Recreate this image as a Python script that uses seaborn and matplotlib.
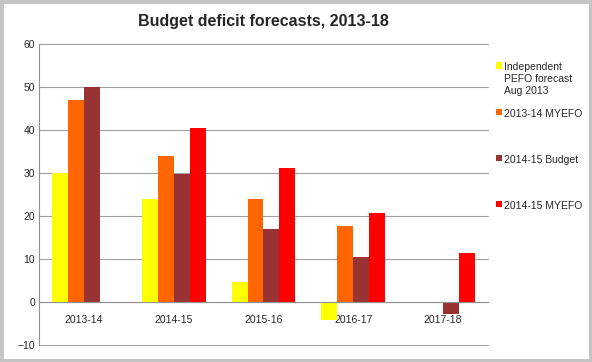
import numpy as np
import pandas as pd
import matplotlib
matplotlib.use("Agg")
import matplotlib.pyplot as plt
import seaborn as sns

# data (billions)
years = ["2013-14", "2014-15", "2015-16", "2016-17", "2017-18"]
series = ["Independent\nPEFO forecast\nAug 2013", "2013-14 MYEFO", "2014-15 Budget", "2014-15 MYEFO"]
pefo = [30.0, 24.0, 4.7, -4.3, np.nan]
myefo_13 = [47.0, 34.0, 24.0, 17.7, np.nan]
budget_14 = [50.0, 29.8, 17.1, 10.5, -2.9]
myefo_14 = [np.nan, 40.5, 31.2, 20.8, 11.5]
colors = ["#FFFF00", "#FF6600", "#993333", "#FF0000"]

df = pd.DataFrame({
    "year": years * 4,
    "series": np.repeat(series, len(years)),
    "value": pefo + myefo_13 + budget_14 + myefo_14,
})

sns.set_style("white")
plt.rcParams["font.family"] = ["Liberation Sans", "DejaVu Sans"]

fig = plt.figure(figsize=(5.92, 3.62), dpi=100)
fig.patch.set_edgecolor("#c4c4c4")
fig.patch.set_linewidth(5)
ax = fig.add_axes([0.066, 0.047, 0.758, 0.831])

sns.barplot(data=df, x="year", y="value", hue="series", order=years,
            hue_order=series, palette=colors, width=0.71, saturation=1,
            linewidth=0, ax=ax, legend=True)

ax.set_ylim(-10, 60)
ax.set_xlim(-0.5, 4.5)
ax.set_yticks(range(-10, 61, 10))
ax.yaxis.grid(True, color="#a0a0a0", linewidth=0.8)
for gl in ax.get_ygridlines():
    gl.set_clip_on(False)
ax.set_axisbelow(True)
ax.set_xlabel("")
ax.set_ylabel("")

for s in ["top", "right"]:
    ax.spines[s].set_visible(False)
ax.spines["left"].set_color("#909090")
ax.spines["bottom"].set_color("#909090")
ax.spines["bottom"].set_position(("data", 0))
ax.spines["bottom"].set_linewidth(0.8)

ax.set_xticks(np.arange(0.5, 4.5, 1), minor=True)
ax.tick_params(axis="x", which="major", length=0, labelsize=7.5, pad=9)
ax.tick_params(axis="x", which="minor", length=3, color="#909090")
ax.tick_params(axis="y", length=0, labelsize=7.5, pad=3)

ax.set_title("Budget deficit forecasts, 2013-18", fontsize=11.5, fontweight="bold", pad=13)

# pad single-line labels so every legend entry has the same height
handles, labels = ax.get_legend_handles_labels()
labels = [lab if "\n" in lab else lab + "\n\n" for lab in labels]
leg = ax.legend(handles, labels, loc="upper left", bbox_to_anchor=(0.829, 0.842),
                bbox_transform=fig.transFigure, frameon=False, fontsize=7.5,
                handlelength=0.55, handleheight=0.55, handletextpad=0.25,
                labelspacing=1.25, borderpad=0)
for col in leg._legend_handle_box.get_children():
    for row in col.get_children():
        row.align = "top"
for t in leg.get_texts():
    t.set_multialignment("left")

fig.savefig("out.png", dpi=100)
